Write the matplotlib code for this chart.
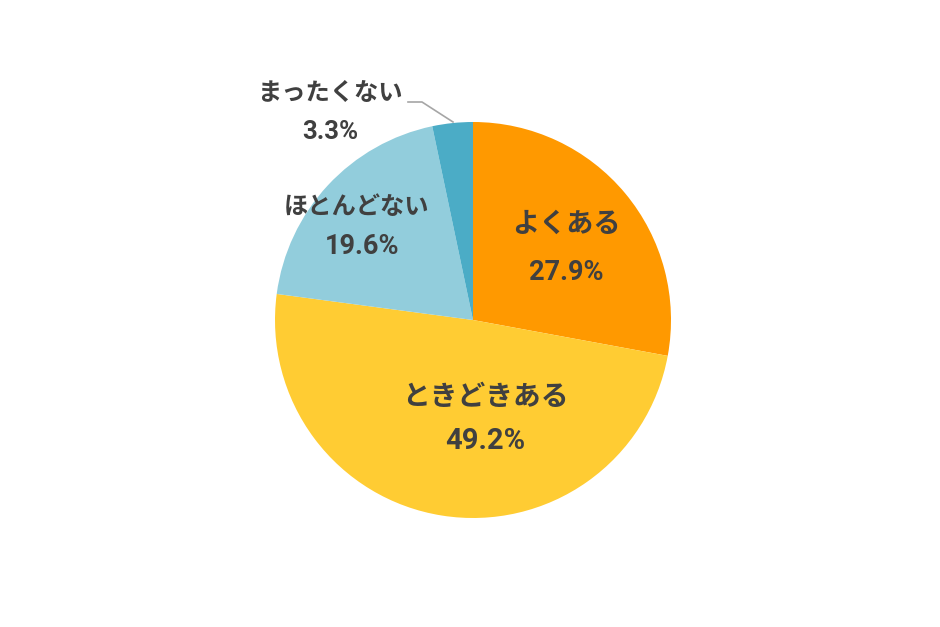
import matplotlib
matplotlib.use("Agg")
import matplotlib.pyplot as plt

plt.rcParams['font.family'] = ['Noto Sans CJK JP', 'DejaVu Sans']

labels = ["よくある", "ときどきある", "ほとんどない", "まったくない"]
values = [27.9, 49.2, 19.6, 3.3]
colors = ["#FF9900", "#FFCC33", "#92CDDC", "#4BACC6"]

W, H = 940, 627
fig = plt.figure(figsize=(W / 100, H / 100), dpi=100)
ax = fig.add_axes([0, 0, 1, 1])

cx, cy, r = 473, H - 320, 198
ax.pie(values, colors=colors, startangle=90, counterclock=False,
       center=(cx, cy), radius=r, frame=True,
       wedgeprops=dict(linewidth=0))
ax.set_xlim(0, W)
ax.set_ylim(0, H)
ax.set_aspect("equal")
ax.axis("off")

# label positions (image px): label x, label y, percent x, percent y
label_pos = [(566, 224, 566, 273), (485, 397, 485, 441),
             (356, 207, 362, 247), (330, 93, 330, 132)]
label_size = [19.5, 20, 17.5, 17.5]
pct_size = [19.5, 21, 19.5, 18.5]
txt_color = "#404040"
for lab, v, (x1, y1, x2, y2), s1, s2 in zip(labels, values, label_pos,
                                             label_size, pct_size):
    ax.text(x1, H - y1, lab, ha="center", va="center", fontsize=s1,
            fontweight="bold", color=txt_color)
    ax.text(x2, H - y2, f"{v}%", ha="center", va="center", fontsize=s2,
            fontweight="bold", color=txt_color, family=["Roboto", "DejaVu Sans"])

# leader line for small slice
ax.plot([408, 422, 453], [H - 102, H - 102, H - 122], color="#A6A6A6", lw=1.2)

fig.savefig("out.png", dpi=100)
